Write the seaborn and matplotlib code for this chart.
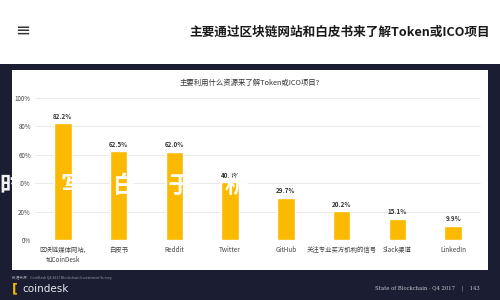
import matplotlib
matplotlib.use("Agg")
import matplotlib.pyplot as plt
from matplotlib.patches import Rectangle
import seaborn as sns
import pandas as pd

# Survey answers and share of respondents (%)
sources = ["区块链媒体网站,\n如CoinDesk", "白皮书", "Reddit", "Twitter", "GitHub",
           "关注专业买方机构的信号", "Slack渠道", "LinkedIn"]
shares = [82.2, 62.5, 62.0, 40.8, 29.7, 20.2, 15.1, 9.9]
ytick_vals = [0, 20, 40, 60, 80, 100]
ytick_labels = ["0%", "20%", "40%", "60%", "80%", "100%"]

headline = "主要通过区块链网站和白皮书来了解Token或ICO项目"
chart_title = "主要利用什么资源来了解Token或ICO项目?"
source_note = "数据来源：CoinDesk Q4 2017 Blockchain Investment Survey"
footer_right = "State of Blockchain · Q4 2017    |    143"
overlay_chars = ["时", "写", "白", "于", "析"]

sns.set_theme(style="white")
plt.rcParams["font.family"] = ["Noto Sans CJK SC", "DejaVu Sans"]

NAVY = "#1b1e32"
GOLD = "#fbb900"

fig = plt.figure(figsize=(5, 3), dpi=100)
fig.patch.set_facecolor("white")

def px(x, y):
    return x / 500, 1 - y / 300

# dark slide background and white chart card
fig.add_artist(Rectangle((0, 0), 1, 1 - 64 / 300, transform=fig.transFigure,
                         facecolor=NAVY, edgecolor="none", zorder=-2))
fig.add_artist(Rectangle(px(12, 270), 476 / 500, 200 / 300, transform=fig.transFigure,
                         facecolor="white", edgecolor="none", zorder=-1))

# page header
fig.text(*px(15, 31), "≡", fontsize=13, color="#333333", family="DejaVu Sans",
         ha="left", va="center")
fig.text(*px(490, 32), headline, fontsize=9.1, color="#1a1a1a", fontweight="bold",
         ha="right", va="center")

# chart
ax = fig.add_axes([35 / 500, 1 - 240 / 300, 446 / 500, 142 / 300])
ax.set_zorder(1)
ax.set_facecolor("none")
df = pd.DataFrame({"source": sources, "share": shares})
sns.barplot(data=df, x="source", y="share", color=GOLD, saturation=1,
            width=0.31, ax=ax, zorder=3)
ax.set_xlim(-0.5, len(sources) - 0.5)
ax.set_ylim(0, 100)
ax.set_yticks(ytick_vals)
ax.set_yticklabels(ytick_labels, fontsize=4.5, color="#444444")
ax.yaxis.grid(True, color="#e6e6e6", linewidth=0.6)
ax.set_axisbelow(True)
for s in ax.spines.values():
    s.set_visible(False)
ax.tick_params(axis="both", length=0, pad=2)
ax.tick_params(axis="y", pad=3)
ax.set_xticks(range(len(sources)))
ax.set_xticklabels(sources, fontsize=4.6, color="#444444", linespacing=1.3)
ax.tick_params(axis="x", pad=4)
ax.set_xlabel("")
ax.set_ylabel("")
for i, v in enumerate(shares):
    ax.text(i, v + 2.5, f"{v:.1f}%", ha="center", va="bottom", fontsize=4.5,
            color="#333333", fontweight="bold")

fig.text(*px(250, 83), chart_title, fontsize=5.3, color="#333333",
         ha="center", va="center")

# overlay brush characters across the chart
overlay = fig.add_axes([0, 0, 1, 1], facecolor="none")
overlay.set_zorder(5)
overlay.set_axis_off()
for (x, y), ch in zip([(11, 186), (72, 186), (124, 186), (180, 186), (236, 186)], overlay_chars):
    overlay.text(*px(x, y), ch, fontsize=17, color="white", fontweight="bold",
                 ha="center", va="center", alpha=0.95, transform=overlay.transAxes)

# footer
fig.text(*px(12, 278), source_note, fontsize=2.6, color="#9a9aa5", ha="left", va="center")
fig.text(*px(12, 289), "[", fontsize=9, color=GOLD, family="DejaVu Sans",
         fontweight="bold", ha="left", va="center")
fig.text(*px(22, 289), "coindesk", fontsize=7.5, color="#e8e8ee", family="DejaVu Sans",
         ha="left", va="center")
fig.text(*px(480, 288), footer_right, fontsize=3.8, color="#c8c8d0",
         family="DejaVu Serif", ha="right", va="center")

fig.savefig("out.png", dpi=100, facecolor=fig.get_facecolor())
